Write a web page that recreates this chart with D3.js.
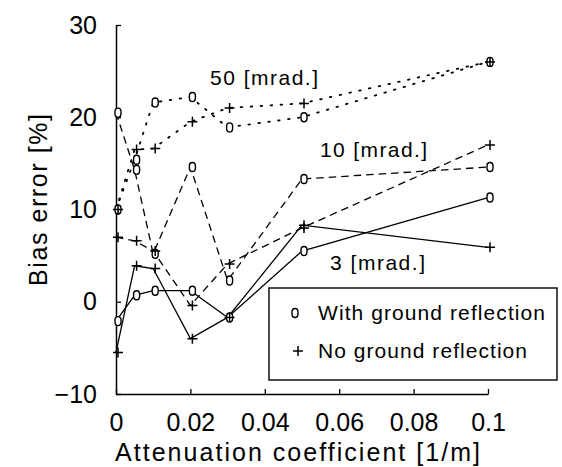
<!DOCTYPE html>
<html><head><meta charset="utf-8">
<script src="https://cdn.jsdelivr.net/npm/d3@7"></script>
<style>
html,body{margin:0;padding:0;background:#fff;}
svg{display:block;font-family:"Liberation Sans",Arial,sans-serif;}
</style></head><body>
<svg id="chart" width="562" height="467"></svg>
<script>
// ---- data ----
const xValues = [0, 0.005, 0.01, 0.02, 0.03, 0.05, 0.1];
const with3  = [-2.1, 0.7, 1.2, 1.2, -1.7, 5.5, 11.3];
const no3    = [-5.5, 3.9, 3.6, -4.0, -1.7, 8.3, 5.9];
const with10 = [20.5, 14.3, 5.2, 14.6, 2.3, 13.3, 14.6];
const no10   = [7.0, 6.6, 5.5, -0.4, 4.1, 8.0, 17.0];
const with50 = [10.0, 15.4, 21.6, 22.2, 18.9, 20.0, 26.0];
const no50   = [10.0, 16.5, 16.6, 19.5, 21.0, 21.5, 26.0];
const xTickValues = [0, 0.02, 0.04, 0.06, 0.08, 0.1];
const xTickLabels = ["0", "0.02", "0.04", "0.06", "0.08", "0.1"];
const yTickValues = [-10, 0, 10, 20, 30];
const yTickLabels = ["\u221210", "0", "10", "20", "30"];
const seriesLabels = ["3 [mrad.]", "10 [mrad.]", "50 [mrad.]"];
const legendLabels = ["With ground reflection", "No ground reflection"];
const xTitle = "Attenuation coefficient [1/m]";
const yTitle = "Bias error [%]";

const series = [
  {values: with3,  marker: "o", style: "solid"},
  {values: no3,    marker: "+", style: "solid"},
  {values: with10, marker: "o", style: "dashed"},
  {values: no10,   marker: "+", style: "dashed"},
  {values: with50, marker: "o", style: "dotted"},
  {values: no50,   marker: "+", style: "dotted"}
];

const svg = d3.select("#chart");
const x = d3.scaleLinear().domain([0, 0.1]).range([116, 488]);
const y = d3.scaleLinear().domain([-10, 30]).range([394, 25]);

// axes
const yAxis = d3.axisLeft(y).tickValues(yTickValues)
  .tickFormat((d, i) => yTickLabels[i]).tickSizeInner(-5).tickSizeOuter(0).tickPadding(19);
const gy = svg.append("g").attr("transform", `translate(${x(0)},0)`).call(yAxis);
const xAxis = d3.axisBottom(x).tickValues(xTickValues)
  .tickFormat((d, i) => xTickLabels[i]).tickSizeInner(-5).tickSizeOuter(0).tickPadding(19);
const gx = svg.append("g").attr("transform", `translate(0,${y(-10)})`).call(xAxis);
[gx, gy].forEach(g => {
  g.selectAll("path.domain").attr("stroke", "#000").attr("stroke-width", 1.5);
  g.selectAll(".tick line").attr("stroke", "#000").attr("stroke-width", 1.3);
  g.selectAll("text").attr("font-size", 25).attr("fill", "#000")
    .attr("font-family", '"Liberation Sans",Arial,sans-serif');
});

// lines
const dashFor = {solid: null, dashed: "7.5,5", dotted: "1.6,8.4"};
const line = d3.line().x((d, i) => x(xValues[i])).y(d => y(d));
series.forEach(s => {
  svg.append("path").datum(s.values)
    .attr("d", line)
    .attr("fill", "none")
    .attr("stroke", "#000")
    .attr("stroke-width", s.style === "dotted" ? 1.8 : 1.3)
    .attr("stroke-dasharray", dashFor[s.style])
    .attr("stroke-linecap", s.style === "dotted" ? "round" : "butt");
});

// markers
function drawMarker(g, type, cx, cy) {
  if (type === "o") {
    g.append("rect").attr("x", cx - 3).attr("y", cy - 4.5)
      .attr("width", 6).attr("height", 9).attr("rx", 3).attr("ry", 3.5)
      .attr("fill", "#fff").attr("stroke", "#000").attr("stroke-width", 1.4);
  } else {
    g.append("path").attr("d", `M${cx - 5},${cy}H${cx + 5}M${cx},${cy - 5}V${cy + 5}`)
      .attr("stroke", "#000").attr("stroke-width", 1.5).attr("fill", "none");
  }
}
const mg = svg.append("g");
series.forEach(s => {
  s.values.forEach((v, i) => drawMarker(mg, s.marker, x(xValues[i]) + 2, y(v)));
});

// series labels
const lab = svg.append("g").attr("font-size", 21).attr("fill", "#000");
lab.append("text").attr("x", 210).attr("y", 85).attr("textLength", 108)
  .attr("lengthAdjust", "spacing").text(seriesLabels[2]);
lab.append("text").attr("x", 320).attr("y", 157).attr("textLength", 107)
  .attr("lengthAdjust", "spacing").text(seriesLabels[1]);
lab.append("text").attr("x", 330).attr("y", 270).attr("textLength", 95)
  .attr("lengthAdjust", "spacing").text(seriesLabels[0]);

// legend
const lg = svg.append("g");
lg.append("rect").attr("x", 269).attr("y", 288).attr("width", 288).attr("height", 92)
  .attr("fill", "#fff").attr("stroke", "#000").attr("stroke-width", 1.4);
drawMarker(lg, "o", 295, 313);
drawMarker(lg, "+", 298, 351);
lg.append("text").attr("x", 318).attr("y", 320).attr("font-size", 21)
  .attr("textLength", 227).attr("lengthAdjust", "spacing").text(legendLabels[0]);
lg.append("text").attr("x", 318).attr("y", 358).attr("font-size", 21)
  .attr("textLength", 209).attr("lengthAdjust", "spacing").text(legendLabels[1]);

// axis titles
svg.append("text").attr("x", 115).attr("y", 461).attr("font-size", 25)
  .attr("textLength", 365).attr("lengthAdjust", "spacing").text(xTitle);
svg.append("text").attr("transform", "translate(47,200) rotate(-90)")
  .attr("text-anchor", "middle").attr("font-size", 25)
  .attr("textLength", 172).attr("lengthAdjust", "spacing").text(yTitle);
</script>
</body></html>
